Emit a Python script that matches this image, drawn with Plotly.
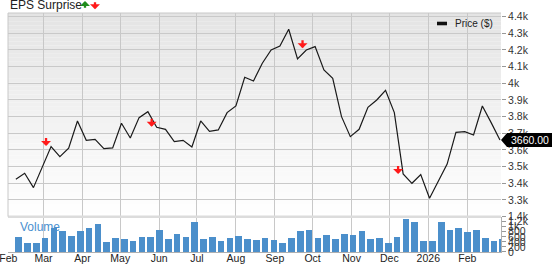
import pandas as pd
import plotly.graph_objects as go

# ---------------- data ----------------
dates = pd.date_range("2025-02-07", periods=56, freq="7D")
prices = [3424, 3460, 3374, 3496, 3620, 3560, 3610, 3774, 3658, 3664,
          3608, 3612, 3760, 3672, 3794, 3830, 3736, 3724, 3650, 3658,
          3618, 3774, 3712, 3720, 3824, 3864, 4036, 4014, 4120, 4200,
          4224, 4324, 4146, 4200, 4220, 4080, 4030, 3800, 3680, 3724,
          3856, 3900, 3958, 3824, 3456, 3400, 3452, 3310, 3410, 3515,
          3706, 3710, 3690, 3864, 3764, 3660]
volumes = [600, 360, 360, 573, 960, 853, 653, 853, 947, 1107,
           413, 587, 547, 453, 627, 627, 867, 533, 747, 627,
           1200, 533, 600, 467, 587, 653, 547, 493, 587, 493,
           360, 573, 840, 893, 573, 707, 533, 747, 707, 827,
           547, 587, 373, 600, 1333, 1187, 467, 467, 1187, 893,
           947, 787, 893, 573, 440, 533]
eps_dates = ["2025-03-03", "2025-05-26", "2025-09-23", "2025-12-08"]
eps_tip_values = [3624, 3740, 4210, 3456]

month_ticks = pd.date_range("2025-02-01", periods=13, freq="MS")
month_labels = ["Feb", "Mar", "Apr", "May", "Jun", "Jul", "Aug", "Sep",
                "Oct", "Nov", "Dec", "2026", "Feb"]
price_ticks = [3300, 3400, 3500, 3600, 3700, 3800, 3900, 4000, 4100, 4200, 4300, 4400]
price_labels = ["3.3k", "3.4k", "3.5k", "3.6k", "3.7k", "3.8k", "3.9k", "4k",
                "4.1k", "4.2k", "4.3k", "4.4k"]
vol_ticks = [0, 200, 400, 600, 800, 1000, 1200, 1400]
vol_labels = ["0", "200", "400", "600", "800", "1k", "1.2k", "1.4k"]

# ---------------- layout geometry ----------------
W, H = 552, 264
ML, MR, MT, MB = 8, 51, 13, 12
PW, PH = W - ML - MR, H - MT - MB
VOL_TOP = 0.148  # fraction of plot height used by volume panel


def PX(x):
    return (x - ML) / PW


def PY(y):
    return (H - MB - y) / PH


FONT = "Liberation Sans, Arial, sans-serif"
DAY = 86400000

fig = go.Figure()

fig.add_trace(go.Bar(
    x=dates, y=volumes, yaxis="y2", xaxis="x",
    marker=dict(color="#4b8fcb", line=dict(width=0)),
    width=5.3 * DAY, offset=-0.4 * DAY, showlegend=False, name="Volume",
))
fig.add_trace(go.Scatter(
    x=dates, y=prices, mode="lines", yaxis="y", xaxis="x",
    line=dict(color="#1a1a1a", width=1.2), name="Price ($)", showlegend=False,
))

shapes = []
# gradient background for price panel
N = 50
for i in range(N):
    f0 = VOL_TOP + (1 - VOL_TOP) * i / N
    f1 = VOL_TOP + (1 - VOL_TOP) * (i + 1) / N
    t = (i + 0.5) / N  # 0 bottom -> 1 top
    c = int(round(255 - (255 - 228) * t))
    shapes.append(dict(type="rect", xref="paper", yref="paper", x0=0, x1=1,
                       y0=f0, y1=f1, fillcolor=f"rgb({c},{c},{c})",
                       line=dict(width=0), layer="below"))
# panel separator band
shapes.append(dict(type="line", xref="paper", yref="paper", x0=0, x1=1,
                   y0=VOL_TOP, y1=VOL_TOP, line=dict(color="#dcdcdc", width=2.5)))
# top and left border
shapes.append(dict(type="line", xref="paper", yref="paper", x0=0, x1=1,
                   y0=1, y1=1, line=dict(color="#c8c8c8", width=1)))
shapes.append(dict(type="line", xref="paper", yref="paper", x0=0, x1=0,
                   y0=VOL_TOP, y1=1, line=dict(color="#c8c8c8", width=1)))
# legend swatch
shapes.append(dict(type="rect", xref="paper", yref="paper",
                   x0=PX(437), x1=PX(447), y0=PY(25.3), y1=PY(21.7),
                   fillcolor="#111111", line=dict(width=0)))
# last price tag
shapes.append(dict(type="path", xref="paper", yref="y", xsizemode="pixel",
                   ysizemode="pixel", xanchor=1, yanchor=prices[-1],
                   path="M0,0 L6,7 L70,7 L70,-7 L6,-7 Z",
                   fillcolor="#000000", line=dict(width=0)))

ARROW = dict(text=" ", font=dict(size=1), showarrow=True,
             arrowhead=1, arrowsize=0.72, arrowwidth=2.3)

annotations = []
annotations.append(dict(xref="paper", yref="paper", x=PX(8), y=PY(5.4),
                        xanchor="left", yanchor="middle", showarrow=False,
                        text="EPS Surprise", font=dict(family=FONT, size=12, color="#222222")))
# title arrows
annotations.append(dict(xref="paper", yref="paper", x=PX(85), y=PY(0.8),
                        ax=0, ay=9, arrowcolor="#1e8c1e", **ARROW))
annotations.append(dict(xref="paper", yref="paper", x=PX(95), y=PY(9.2),
                        ax=0, ay=-9, arrowcolor="#ff1a1a", **ARROW))
# EPS surprise arrows on chart
for d, v in zip(eps_dates, eps_tip_values):
    annotations.append(dict(xref="x", yref="y", x=d, y=v, ax=0, ay=-10,
                            arrowcolor="#ff1a1a", **ARROW))
# legend text
annotations.append(dict(xref="paper", yref="paper", x=PX(452.5), y=PY(23.8),
                        xanchor="left", yanchor="middle", showarrow=False,
                        text="Price ($)", font=dict(family=FONT, size=10, color="#222222")))
# volume label
annotations.append(dict(xref="paper", yref="paper", x=PX(18), y=PY(227.3),
                        xanchor="left", yanchor="middle", showarrow=False,
                        text="Volume", font=dict(family=FONT, size=12, color="#4a90cf")))
# last price tag text
annotations.append(dict(xref="paper", yref="y", x=1, y=prices[-1], xshift=8,
                        xanchor="left", yanchor="middle", showarrow=False,
                        text=f"{prices[-1]:.2f}",
                        font=dict(family=FONT, size=10.5, color="#ffffff")))

fig.update_layout(
    width=W, height=H, margin=dict(l=ML, r=MR, t=MT, b=MB, pad=0, autoexpand=False),
    paper_bgcolor="white", plot_bgcolor="white",
    font=dict(family=FONT, size=10.5, color="#333333"),
    bargap=0,
    xaxis=dict(
        type="date", anchor="y2", automargin=False,
        range=["2025-01-31 18:00", "2026-02-27 20:00"],
        tickmode="array", tickvals=month_ticks, ticktext=month_labels,
        showgrid=True, gridcolor="#c8c8c8", gridwidth=1,
        showline=True, linecolor="#b0b0b0", linewidth=1,
        ticks="", tickfont=dict(size=10.5, color="#222222"),
        ticklabeloverflow="allow", ticklabelstandoff=-4,
        zeroline=False, fixedrange=True,
    ),
    yaxis=dict(
        domain=[VOL_TOP, 1], side="right", anchor="x", automargin=False,
        range=[3200, 3200 + (PH * (1 - VOL_TOP)) * 6],
        tickmode="array", tickvals=price_ticks, ticktext=price_labels,
        showgrid=True, gridcolor="#c9c9c9", gridwidth=1,
        ticks="outside", ticklen=4, tickcolor="#999999",
        showline=False, zeroline=False,
        tickfont=dict(size=10.5, color="#333333"),
    ),
    yaxis2=dict(
        domain=[0, VOL_TOP], side="right", anchor="x", automargin=False,
        range=[0, 1400],
        tickmode="array", tickvals=vol_ticks, ticktext=vol_labels,
        showgrid=False, ticks="outside", ticklen=4, tickcolor="#999999",
        showline=True, linecolor="#b0b0b0", linewidth=1, zeroline=False,
        tickfont=dict(size=10.5, color="#333333"),
    ),
    shapes=shapes,
    annotations=annotations,
    showlegend=False,
)

fig.write_html("out.html")
